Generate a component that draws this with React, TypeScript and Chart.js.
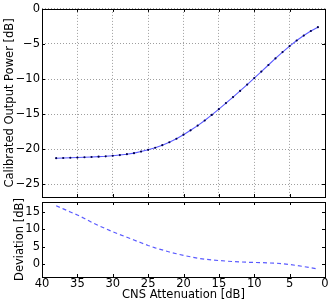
import React, { useEffect, useRef } from "react";
import { Chart, registerables } from "chart.js";

Chart.register(...registerables);

const attenuation = [38, 37, 36, 35, 34, 33, 32, 31, 30, 29, 28, 27, 26, 25, 24, 23, 22, 21, 20, 19, 18, 17, 16, 15, 14, 13, 12, 11, 10, 9, 8, 7, 6, 5, 4, 3, 2, 1];
const outputPower = [-21.27, -21.24, -21.21, -21.18, -21.14, -21.1, -21.05, -21.0, -20.92, -20.82, -20.7, -20.55, -20.33, -20.08, -19.78, -19.42, -19.0, -18.5, -17.92, -17.3, -16.63, -15.9, -15.1, -14.27, -13.42, -12.56, -11.68, -10.78, -9.86, -8.93, -7.99, -7.05, -6.15, -5.3, -4.5, -3.8, -3.15, -2.6];
const deviation = [16.9, 16.0, 15.1, 14.2, 13.2, 12.1, 11.1, 10.2, 9.3, 8.5, 7.7, 6.9, 6.1, 5.3, 4.6, 4.0, 3.4, 2.9, 2.4, 2.0, 1.6, 1.3, 1.1, 0.9, 0.75, 0.6, 0.5, 0.4, 0.35, 0.3, 0.2, 0.15, 0.0, -0.25, -0.55, -0.85, -1.2, -1.55];
const xTicks = [0, 5, 10, 15, 20, 25, 30, 35, 40];
const powerTicks = [0, -5, -10, -15, -20, -25];
const deviationTicks = [0, 5, 10, 15];

const FONT = { family: "'DejaVu Sans', sans-serif", size: 11.5 };
const fmt = (v: number) => (v < 0 ? "\u2212" + Math.abs(v) : String(v));

const framePlugin = {
  id: "frame",
  afterDraw(chart: any) {
    const { ctx, chartArea: a } = chart;
    const xs = chart.scales.x;
    const ys = chart.scales.y;
    ctx.save();
    ctx.strokeStyle = "#000";
    ctx.lineWidth = 1;
    ctx.beginPath();
    const tl = 3;
    xs.ticks.forEach((t: any) => {
      const px = Math.round(xs.getPixelForValue(t.value)) + 0.5;
      ctx.moveTo(px, a.top);
      ctx.lineTo(px, a.top + tl);
      ctx.moveTo(px, a.bottom);
      ctx.lineTo(px, a.bottom - tl);
    });
    ys.ticks.forEach((t: any) => {
      const py = Math.round(ys.getPixelForValue(t.value)) + 0.5;
      ctx.moveTo(a.left, py);
      ctx.lineTo(a.left + tl, py);
      ctx.moveTo(a.right, py);
      ctx.lineTo(a.right - tl, py);
    });
    ctx.stroke();
    ctx.strokeRect(Math.round(a.left) + 0.5, Math.round(a.top) + 0.5, Math.round(a.right - a.left), Math.round(a.bottom - a.top));
    ctx.restore();
  },
};

const gridCommon = {
  color: "rgba(0,0,0,0.38)",
  lineWidth: 1,
  drawTicks: false,
};

export default function App() {
  const topRef = useRef<HTMLCanvasElement>(null);
  const botRef = useRef<HTMLCanvasElement>(null);

  useEffect(() => {
    const topChart = new Chart(topRef.current!, {
      type: "line",
      data: {
        datasets: [
          {
            data: attenuation.map((x, i) => ({ x, y: outputPower[i] })),
            borderColor: "#5a5aff",
            borderWidth: 1.1,
            pointRadius: 1.1,
            pointBackgroundColor: "#000050",
            pointBorderWidth: 0,
            tension: 0,
          },
        ],
      },
      options: {
        animation: false,
        responsive: false,
        events: [],
        layout: { padding: { top: 7, left: 0, right: 7, bottom: 108 } },
        plugins: { legend: { display: false }, tooltip: { enabled: false } },
        scales: {
          x: {
            type: "linear",
            reverse: true,
            min: 0,
            max: 40,
            afterBuildTicks: (s: any) => { s.ticks = xTicks.map((v) => ({ value: v })); },
            afterFit: (s: any) => { s.height = 0; },
            ticks: { display: false },
            grid: gridCommon,
            border: { display: false, dash: [1, 2] },
          },
          y: {
            min: -26.8,
            max: 0,
            afterBuildTicks: (s: any) => { s.ticks = powerTicks.map((v) => ({ value: v })); },
            afterFit: (s: any) => { s.width = 42; },
            ticks: { color: "#000", font: FONT, padding: 2, callback: (v: any) => fmt(Number(v)) },
            grid: gridCommon,
            border: { display: false, dash: [1, 2] },
            title: { display: true, text: "Calibrated Output Power [dB]", color: "#000", font: FONT, padding: { top: 3.5, bottom: 0 } },
          },
        },
      },
      plugins: [framePlugin],
    } as any);

    const botChart = new Chart(botRef.current!, {
      type: "line",
      data: {
        datasets: [
          {
            data: attenuation.map((x, i) => ({ x, y: deviation[i] })),
            borderColor: "#5a5aff",
            borderWidth: 1.2,
            borderDash: [4, 3],
            pointRadius: 0,
            tension: 0,
          },
        ],
      },
      options: {
        animation: false,
        responsive: false,
        events: [],
        layout: { padding: { top: 202, left: 0, right: 7, bottom: 0 } },
        plugins: { legend: { display: false }, tooltip: { enabled: false } },
        scales: {
          x: {
            type: "linear",
            reverse: true,
            min: 0,
            max: 40,
            afterBuildTicks: (s: any) => { s.ticks = xTicks.map((v) => ({ value: v })); },
            afterFit: (s: any) => { s.height = 28; },
            ticks: { color: "#000", font: FONT, padding: 0, maxRotation: 0, autoSkip: false },
            grid: { display: false, drawTicks: false },
            border: { display: false },
            title: { display: true, text: "CNS Attenuation [dB]", color: "#000", font: FONT, padding: { top: 0, bottom: 3.2 } },
          },
          y: {
            min: -3.9,
            max: 18,
            afterBuildTicks: (s: any) => { s.ticks = deviationTicks.map((v) => ({ value: v })); },
            afterFit: (s: any) => { s.width = 42; },
            ticks: { color: "#000", font: FONT, padding: 2, callback: (v: any) => fmt(Number(v)) },
            grid: { display: false, drawTicks: false },
            border: { display: false },
            title: { display: true, text: "Deviation [dB]", color: "#000", font: FONT, padding: { top: 13.2, bottom: 0 } },
          },
        },
      },
      plugins: [framePlugin],
    } as any);

    return () => {
      topChart.destroy();
      botChart.destroy();
    };
  }, []);

  return (
    <div style={{ position: "absolute", left: 0, top: 0, width: 332, height: 305, background: "#fff" }}>
      <canvas ref={topRef} width={332} height={305} style={{ position: "absolute", left: 0, top: 0, width: 332, height: 305 }} />
      <canvas ref={botRef} width={332} height={305} style={{ position: "absolute", left: 0, top: 0, width: 332, height: 305 }} />
    </div>
  );
}
